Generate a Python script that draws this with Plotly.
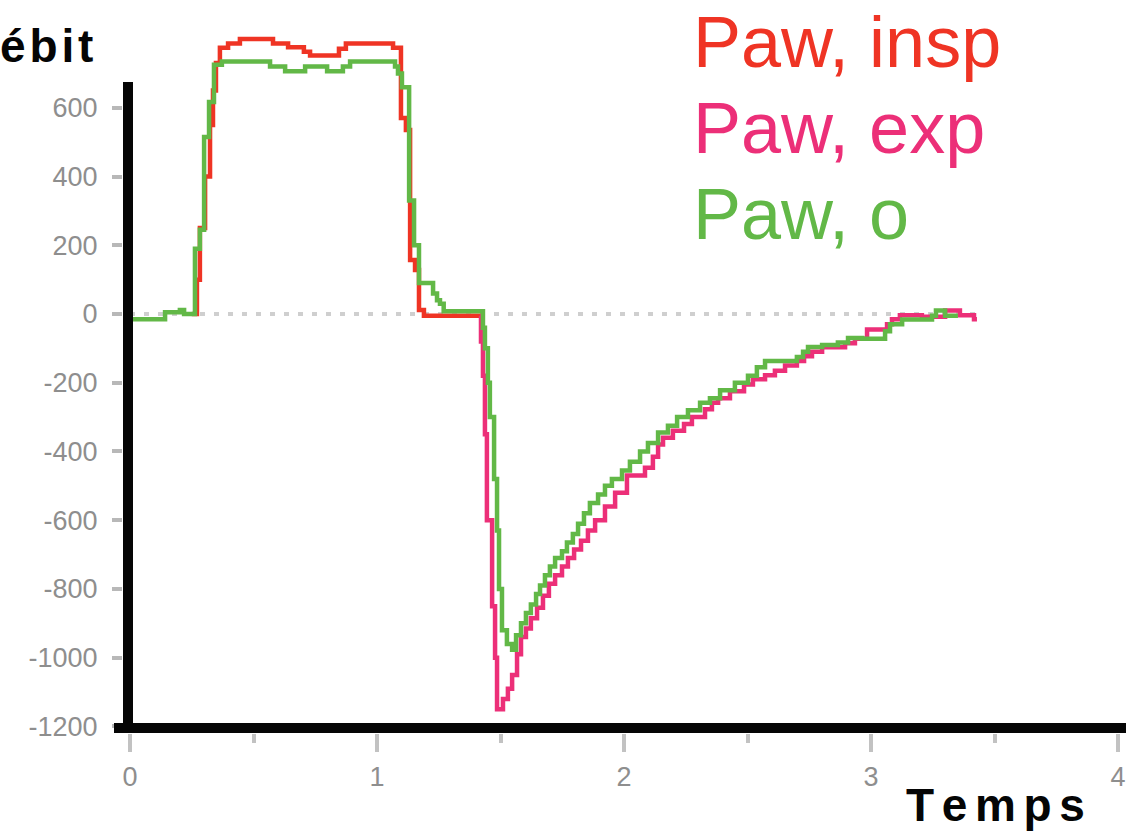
import plotly.graph_objects as go

# ---------------- data ----------------
# Paw, insp (red)
insp_t = [0.250, 0.271, 0.283, 0.304, 0.324, 0.336, 0.348, 0.364, 0.397, 0.445, 0.579, 0.640,
          0.704, 0.729, 0.846, 0.874, 1.065, 1.097, 1.117, 1.134, 1.154, 1.170, 1.190, 1.425]
insp_v = [0, 100, 250, 400, 550, 650, 730, 775, 787, 800, 787, 776,
          763, 752, 772, 787, 775, 570, 535, 157, 128, 12, -5, -5]

# Paw, exp (pink)
exp_t = [1.417, 1.421, 1.429, 1.437, 1.445, 1.466, 1.478, 1.486, 1.510, 1.530, 1.547, 1.567,
         1.583, 1.603, 1.623, 1.648, 1.672, 1.696, 1.721, 1.749, 1.773, 1.798, 1.826, 1.854,
         1.883, 1.923, 1.964, 2.012, 2.085, 2.117, 2.138, 2.158, 2.198, 2.243, 2.275, 2.328,
         2.356, 2.381, 2.429, 2.486, 2.522, 2.571, 2.611, 2.652, 2.700, 2.729, 2.761, 2.802,
         2.895, 2.935, 2.984, 3.065, 3.085, 3.117, 3.206, 3.300, 3.360, 3.417, 3.429]
exp_v = [-5, -80, -180, -350, -600, -850, -1000, -1150, -1120, -1090, -1050, -990,
         -940, -915, -885, -855, -820, -785, -760, -735, -710, -685, -660, -630,
         -600, -560, -520, -470, -447, -415, -380, -360, -340, -320, -300, -277,
         -258, -245, -225, -205, -190, -178, -165, -150, -137, -123, -110, -97,
         -85, -72, -45, -30, -15, -4, -8, 10, -4, -15, -15]

# Paw, o (green)
o_t = [0.000, 0.142, 0.202, 0.219, 0.263, 0.283, 0.300, 0.320, 0.340, 0.372, 0.567, 0.628,
       0.709, 0.798, 0.862, 0.891, 1.073, 1.085, 1.101, 1.130, 1.150, 1.170, 1.227, 1.243,
       1.255, 1.270, 1.429, 1.437, 1.449, 1.457, 1.474, 1.486, 1.494, 1.506, 1.526, 1.547,
       1.563, 1.583, 1.603, 1.623, 1.644, 1.660, 1.680, 1.700, 1.721, 1.749, 1.769, 1.793,
       1.814, 1.838, 1.862, 1.895, 1.923, 1.951, 1.992, 2.024, 2.065, 2.097, 2.138, 2.178,
       2.215, 2.259, 2.308, 2.348, 2.389, 2.449, 2.502, 2.538, 2.571, 2.700, 2.725, 2.745,
       2.802, 2.866, 2.907, 2.964, 3.057, 3.077, 3.126, 3.247, 3.263, 3.300, 3.352]
o_v = [-15, 5, 12, 0, 190, 245, 515, 617, 725, 735, 720, 706,
       720, 706, 720, 735, 720, 700, 660, 330, 200, 90, 60, 40,
       30, 8, -40, -100, -200, -300, -480, -630, -800, -920, -960, -977,
       -935, -900, -870, -845, -815, -790, -760, -735, -710, -690, -665, -640,
       -610, -580, -550, -525, -500, -480, -455, -430, -400, -375, -345, -325,
       -300, -280, -258, -245, -222, -200, -180, -155, -137, -125, -110, -96,
       -90, -83, -70, -72, -50, -30, -16, -5, 10, -5, -5]

series_names = ["Paw, insp", "Paw, exp", "Paw, o"]
series_colors = ["#EF3424", "#EC2F78", "#62B847"]

x_tick_vals = [0, 1, 2, 3, 4]
x_tick_text = ["0", "1", "2", "3", "4"]
x_minor_vals = [0.5, 1.5, 2.5, 3.5]
y_tick_vals = [600, 400, 200, 0, -200, -400, -600, -800, -1000, -1200]
y_tick_text = ["600", "400", "200", "0", "-200", "-400", "-600", "-800", "-1000", "-1200"]

y_title = "Débit"
x_title = "Temps"

# ---------------- layout geometry ----------------
W, H = 1131, 834
L, R, T, B = 123, 5, 10, 101
X_RANGE = [-0.02834, 4.0324]
Y_RANGE = [-1219.1, 884.5]


def px_x(px):
    return (px - L) / (W - L - R)


def px_y(py):
    return 1 - (py - T) / (H - T - B)


fig = go.Figure()

# zero reference line (dotted grey)
fig.add_shape(type="line", xref="x", yref="y", x0=0.0, x1=3.43, y0=0, y1=0,
              line=dict(color="#cfcfcf", width=4, dash="5px,9px"), layer="below")

for t, v, name, col in [(insp_t, insp_v, series_names[0], series_colors[0]),
                        (exp_t, exp_v, series_names[1], series_colors[1]),
                        (o_t, o_v, series_names[2], series_colors[2])]:
    fig.add_trace(go.Scatter(x=t, y=v, mode="lines", name=name,
                             line=dict(color=col, width=4.5, shape="hv"),
                             showlegend=False, hoverinfo="skip"))

# thick black axis lines
fig.add_shape(type="line", xref="paper", yref="paper",
              x0=px_x(114), x1=px_x(1126), y0=px_y(728), y1=px_y(728),
              line=dict(color="#050505", width=10), layer="above")
fig.add_shape(type="line", xref="paper", yref="paper",
              x0=px_x(128), x1=px_x(128), y0=px_y(733), y1=px_y(82),
              line=dict(color="#050505", width=10), layer="above")

tick_font = dict(family="Liberation Sans, Arial, sans-serif", size=27, color="#8e8e8e")

fig.update_layout(
    width=W, height=H,
    margin=dict(l=L, r=R, t=T, b=B, pad=0),
    paper_bgcolor="white", plot_bgcolor="white",
    showlegend=False,
    xaxis=dict(range=X_RANGE, showgrid=False, zeroline=False, showline=False,
               tickmode="array", tickvals=x_tick_vals, ticktext=x_tick_text,
               ticks="outside", ticklen=18, tickwidth=4, tickcolor="#c2c2c2",
               ticklabelstandoff=2, tickfont=tick_font,
               minor=dict(tickmode="array", tickvals=x_minor_vals, ticks="outside",
                          ticklen=9, tickwidth=4, tickcolor="#c2c2c2")),
    yaxis=dict(range=Y_RANGE, showgrid=False, zeroline=False, showline=False,
               tickmode="array", tickvals=y_tick_vals, ticktext=y_tick_text,
               ticks="outside", ticklen=10, tickwidth=4, tickcolor="#b8b8b8",
               ticklabelstandoff=9, tickfont=tick_font),
)

legend_font = "Liberation Sans, Arial, sans-serif"
for name, col, cy in zip(series_names, series_colors, [42, 128, 214]):
    fig.add_annotation(text=name, xref="paper", yref="paper", x=px_x(691), y=px_y(cy),
                       xanchor="left", yanchor="middle", showarrow=False,
                       font=dict(family=legend_font, size=72, color=col))

title_font = dict(family="Liberation Sans, Arial, sans-serif",
                  size=46, color="#050505", weight="bold")
fig.add_annotation(text="\u200a".join(y_title), xref="paper", yref="paper",
                   x=px_x(95), y=px_y(46), xanchor="right", yanchor="middle",
                   showarrow=False, font=title_font)
fig.add_annotation(text="\u2006".join(x_title), xref="paper", yref="paper",
                   x=px_x(1087), y=px_y(805), xanchor="right", yanchor="middle",
                   showarrow=False, font=title_font)

fig.write_html("out.html")
